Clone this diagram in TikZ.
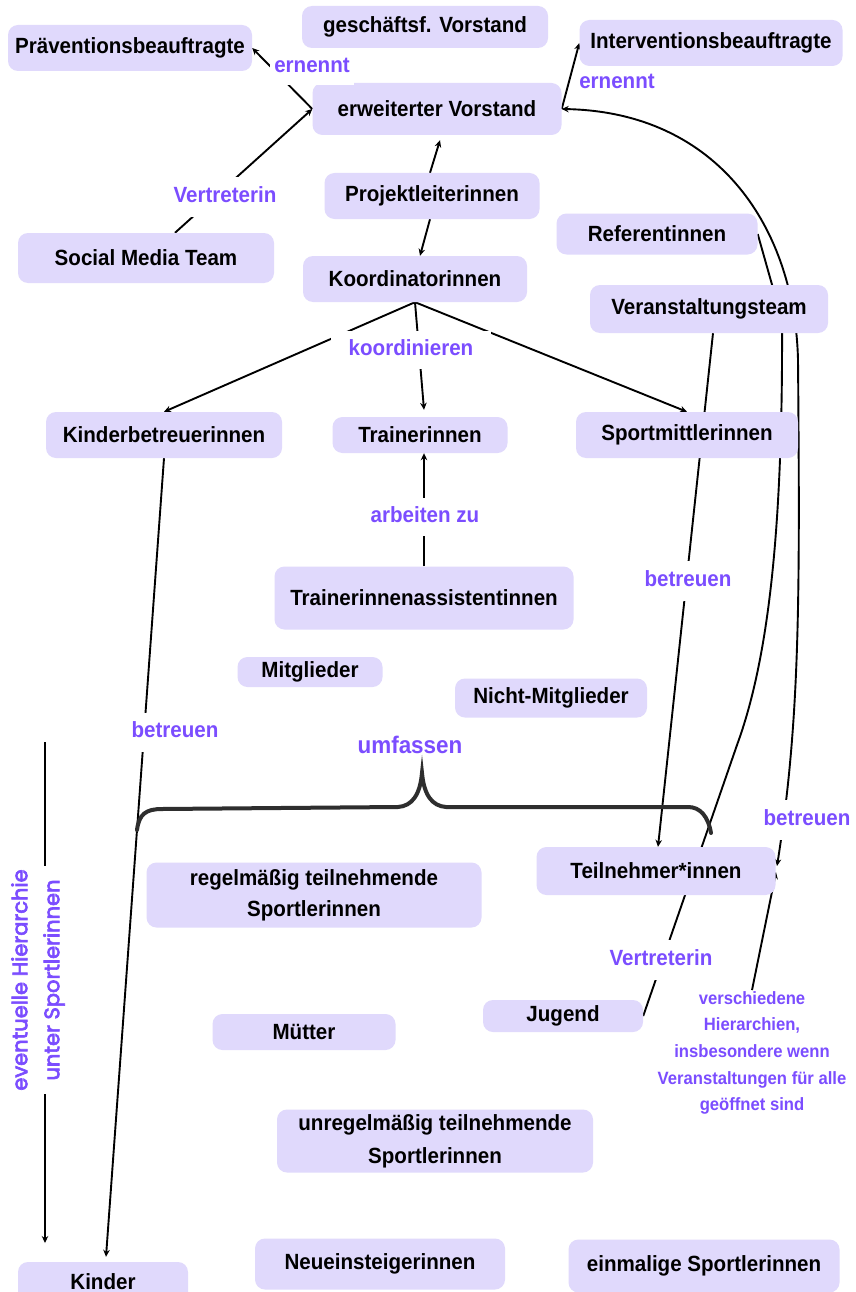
\documentclass[tikz,border=0pt]{standalone}
\usepackage{fontspec}
\setmainfont{Liberation Sans}[FakeStretch=0.935]
\newfontfamily\popp{Poppins}[FakeBold=3]
\usetikzlibrary{arrows.meta,backgrounds}
\definecolor{boxfill}{HTML}{E0D9FC}
\definecolor{lilac}{HTML}{7B4DFF}
\definecolor{bracecol}{HTML}{2E2E2E}
\tikzset{
  box/.style={fill=boxfill, rounded corners=10pt, inner sep=0pt, align=center,
    font=\bfseries\fontsize{22}{31}\selectfont, text=black},
  lbl/.style={text=lilac, font=\bfseries\fontsize{22}{26}\selectfont, inner sep=0pt,
    text height=16pt, text depth=5pt},
  gap/.style={fill=white, inner xsep=5pt, inner ysep=9pt},
  conn/.style={line width=1.9pt, draw=black},
  arr/.style={conn, -{Stealth[length=7pt,width=6.5pt]}},
  arrboth/.style={conn, {Stealth[length=7pt,width=6.5pt]}-{Stealth[length=7pt,width=6.5pt]}},
}
\begin{document}
\begin{tikzpicture}[x=1pt,y=-1pt]
\useasboundingbox (0,0) rectangle (855,1292);
\begin{pgfonlayer}{background}
\fill[white] (0,0) rectangle (855,1292);
\end{pgfonlayer}

% boxes
\node[box, minimum width=244pt, minimum height=46pt] (praev) at (130,48) {Präventionsbeauftragte};
\node[box, minimum width=246pt, minimum height=42pt] (gesch) at (425,27) {geschäftsf. Vorstand};
\node[box, minimum width=263pt, minimum height=46pt] (interv) at (711,43) {Interventionsbeauftragte};
\node[box, minimum width=249pt, minimum height=52pt] (evorst) at (437,109) {erweiterter Vorstand};
\node[box, minimum width=215pt, minimum height=46pt] (projekt) at (432,196) {Projektleiterinnen};
\node[box, minimum width=256pt, minimum height=50pt] (social) at (146,258) {Social Media Team};
\node[box, minimum width=201pt, minimum height=41pt] (refer) at (657,234) {Referentinnen};
\node[box, minimum width=224pt, minimum height=46pt] (koord) at (415,279) {Koordinatorinnen};
\node[box, minimum width=238pt, minimum height=48pt] (veran) at (709,309) {Veranstaltungsteam};
\node[box, minimum width=236pt, minimum height=46pt] (kinderb) at (164,435) {Kinderbetreuerinnen};
\node[box, minimum width=175pt, minimum height=36pt] (trainer) at (420,435) {Trainerinnen};
\node[box, minimum width=222pt, minimum height=46pt] (sportm) at (687,435) {Sportmittlerinnen};
\node[box, minimum width=299pt, minimum height=63pt] (assist) at (424,598) {Trainerinnenassistentinnen};
\node[box, minimum width=145pt, minimum height=30pt] (mitgl) at (310,672) {Mitglieder};
\node[box, minimum width=192pt, minimum height=39pt] (nicht) at (551,698) {Nicht-Mitglieder};
\node[box, minimum width=239pt, minimum height=48pt] (teiln) at (656,871) {Teilnehmer*innen};
\node[box, minimum width=335pt, minimum height=65pt] (regel) at (314,895) {regelmäßig teilnehmende\\Sportlerinnen};
\node[box, minimum width=183pt, minimum height=36pt] (muetter) at (304,1032) {Mütter};
\node[box, minimum width=160pt, minimum height=32pt] (jugend) at (563,1016) {Jugend};
\node[box, minimum width=316pt, minimum height=63pt, font=\bfseries\fontsize{22}{33}\selectfont] (unregel) at (435,1141) {unregelmäßig teilnehmende\\Sportlerinnen};
\node[box, minimum width=250pt, minimum height=51pt] (neu) at (380,1264) {Neueinsteigerinnen};
\node[box, minimum width=271pt, minimum height=53pt] (einm) at (704,1266) {einmalige Sportlerinnen};
\node[box, minimum width=170pt, minimum height=40pt] (kinder) at (103,1282) {Kinder};

% free-standing text
\node[lbl, font=\bfseries\fontsize{17.8}{26.7}\selectfont, align=center, text height=, text depth=, inner sep=1pt] (versch) at (752,1053)
  {verschiedene\\Hierarchien,\\insbesondere wenn\\Veranstaltungen für alle\\geöffnet sind};
\node[lbl, font=\bfseries\fontsize{24}{28}\selectfont] (umf) at (410,748) {umfassen};
\node[lbl] (ern2) at (617,83) {ernennt};

% named free ends
\coordinate (hTop) at (45,742);
\coordinate (hBot) at (45,1243);
\coordinate (tA) at (777,866);
\coordinate (tB) at (776,872);

\begin{pgfonlayer}{background}
\draw[arr] (evorst.west) -- (praev.east);
\draw[arr] (evorst.east) -- (interv.west);
\draw[arr] ([xshift=29pt]social.north) -- (evorst.west);
\draw[arr] ([xshift=-2pt]projekt.north) -- ([xshift=3pt,yshift=-5pt]evorst.south);
\draw[arr] ([xshift=-2pt]projekt.south) -- ([xshift=5pt]koord.north);
\draw[arr] (koord.south) -- (kinderb.north);
\draw[arr] (koord.south) -- ([xshift=4pt,yshift=7pt]trainer.north);
\draw[arr] (koord.south) -- (sportm.north);
\draw[arr] (assist.north) -- ([xshift=4pt]trainer.south);
\draw[arr] (kinderb.south) -- ([xshift=3pt,yshift=5pt]kinder.north);
\draw[arr] ([xshift=4pt]veran.south) -- ([xshift=2pt]teiln.north);
\draw[arr] (hTop) -- (hBot);
\draw[arrboth] (evorst.east) .. controls (720,112) and (795,230) .. (798,360)
   .. controls (800,600) and (800,720) .. (tA);
\draw[arr] (versch.north) -- (tB);
\draw[conn] (refer.east) -- (782,320) .. controls (783,520) and (770,655) .. (737,745) -- (jugend.east);
\end{pgfonlayer}

% brace
\draw[line width=4pt, bracecol, line cap=round] (137,830) .. controls (139,814) and (146,809) .. (162,809)
  -- (398,807) .. controls (412,806) and (420,795) .. (422,773)
  .. controls (424,795) and (432,806) .. (446,807) -- (688,807)
  .. controls (700,807) and (708,816) .. (711,833);

% connector labels
\node[lbl, gap, inner xsep=4pt, inner ysep=8pt] (ern1) at (312,67) {ernennt};
\node[lbl, gap] (vert1) at (225,197) {Vertreterin};
\node[lbl, gap, inner xsep=18pt, inner ysep=8.5pt] (koordl) at (411,350) {koordinieren};
\node[lbl, gap, inner ysep=8.5pt] (arb) at (425,517) {arbeiten zu};
\node[lbl, gap, inner ysep=9.5pt] (betr1) at (688,581) {betreuen};
\node[lbl, gap] (betr2) at (175,732) {betreuen};
\node[lbl, gap, inner ysep=9.5pt] (betr3) at (807,820) {betreuen};
\node[lbl, gap, inner ysep=9.5pt] (vert2) at (661,960) {Vertreterin};
\node[rotate=90, fill=white, text=lilac, font=\popp\fontsize{21}{32}\selectfont, align=center, inner sep=3pt] (hier) at (38,980)
  {eventuelle Hierarchie\\unter Sportlerinnen};
\end{tikzpicture}
\end{document}
